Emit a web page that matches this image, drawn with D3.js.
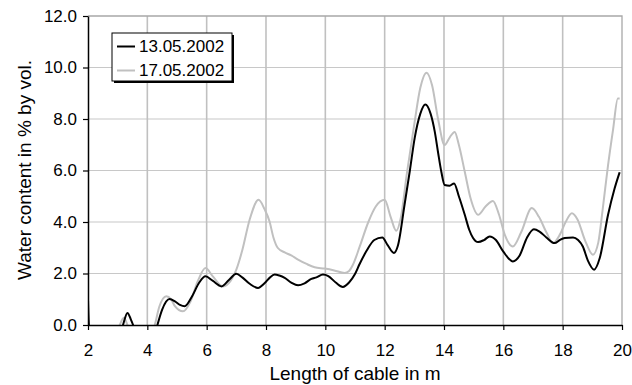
<!DOCTYPE html>
<html>
<head>
<meta charset="utf-8">
<script src="https://cdn.jsdelivr.net/npm/d3@7"></script>
<style>
  body { margin: 0; background: #fff; }
  svg { display: block; font-family: "Liberation Sans", Arial, sans-serif; }
</style>
</head>
<body>
<script>
const seriesNames = ["13.05.2002", "17.05.2002"];

const xTicks = [2, 4, 6, 8, 10, 12, 14, 16, 18, 20];
const yTicks = [0, 2, 4, 6, 8, 10, 12];

// 13.05.2002 : cable length (m) / water content (% vol.)
const lengthA = [
  2.0, 2.03, 2.1, 2.6, 3.05, 3.18, 3.33, 3.45, 3.52, 3.65, 4.0, 4.25, 4.34,
  4.5, 4.75, 4.93, 5.1, 5.26, 5.5, 5.75, 5.96, 6.2, 6.5, 6.75, 7.0, 7.2,
  7.45, 7.73, 7.95, 8.12, 8.29, 8.45, 8.63, 8.85, 9.08, 9.3, 9.53, 9.7,
  9.92, 10.1, 10.35, 10.59, 10.8, 10.99, 11.16, 11.4, 11.65, 11.92, 12.1,
  12.31, 12.45, 12.67, 12.85, 13.01, 13.2, 13.37, 13.55, 13.69, 13.8, 13.91,
  14.02, 14.19, 14.34, 14.5, 14.7, 14.85, 14.98, 15.15, 15.35, 15.54, 15.75,
  16.0, 16.32, 16.55, 16.8, 17.03, 17.22, 17.45, 17.73, 17.9, 18.07, 18.35,
  18.52, 18.68, 18.85, 19.06, 19.25, 19.53, 19.75, 19.92,
];
const waterA = [
  1.0, 0.0, -0.5, -0.8, -0.5, 0.0, 0.47, 0.2, 0.0, -0.5, -0.8, -0.4, 0.0,
  0.6, 1.01, 0.92, 0.78, 0.73, 1.1, 1.65, 1.89, 1.72, 1.5, 1.75, 1.99, 1.85,
  1.6, 1.44, 1.62, 1.83, 1.96, 1.92, 1.83, 1.65, 1.54, 1.62, 1.79, 1.85,
  1.96, 1.9, 1.65, 1.48, 1.65, 1.96, 2.38, 2.9, 3.3, 3.4, 3.1,
  2.8, 3.1, 4.67, 6.0, 7.25, 8.2, 8.56, 8.2, 7.5, 6.7, 5.95,
  5.44, 5.41, 5.5, 5.0, 4.28, 3.7, 3.38, 3.22, 3.3, 3.44, 3.3,
  2.85, 2.47, 2.7, 3.4, 3.72, 3.63, 3.4, 3.18, 3.3, 3.38, 3.4,
  3.3, 3.05, 2.5, 2.15, 2.6, 4.28, 5.3, 5.93,
];

// 17.05.2002
const lengthB = [
  2.0, 2.5, 2.95, 3.07, 3.21, 3.33, 3.5, 4.0, 4.15, 4.25, 4.4, 4.64, 4.8,
  4.93, 5.2, 5.45, 5.7, 5.96, 6.2, 6.55, 6.8, 7.0, 7.2, 7.45, 7.75, 7.95,
  8.12, 8.25, 8.4, 8.63, 8.85, 9.08, 9.35, 9.64, 9.98, 10.3, 10.65, 10.8,
  10.93, 11.16, 11.45, 11.7, 12.0, 12.2, 12.39, 12.55, 12.75, 13.01, 13.2,
  13.41, 13.6, 13.8, 14.02, 14.2, 14.36, 14.5, 14.7, 14.9, 15.15, 15.4,
  15.65, 15.85, 16.05, 16.32, 16.6, 16.96, 17.2, 17.45, 17.67, 17.9, 18.1,
  18.31, 18.5, 18.75, 19.02, 19.2, 19.35, 19.53, 19.7, 19.86, 19.92,
];
const waterB = [
  -0.6, -0.8, -0.4, 0.0, 0.28, 0.0, -0.5, -0.6, -0.3, 0.0, 0.7, 1.12, 1.0,
  0.73, 0.53, 0.9, 1.7, 2.21, 1.9, 1.5, 1.7, 2.15, 2.9, 4.1, 4.86, 4.5,
  4.02, 3.4, 2.99, 2.82, 2.7, 2.54, 2.38, 2.24, 2.19, 2.12, 2.02, 2.1,
  2.34, 3.05, 4.0, 4.6, 4.86, 4.2, 3.66, 4.2, 5.9, 7.89, 9.2,
  9.8, 9.3, 8.0, 6.99, 7.3, 7.5, 7.0, 5.95, 4.9, 4.28, 4.6,
  4.82, 4.3, 3.5, 3.05, 3.6, 4.54, 4.2, 3.6, 3.18, 3.5, 4.0,
  4.34, 4.1, 3.3, 2.73, 3.2, 4.5, 6.21, 7.6, 8.8, 8.8,
];

const colors = ["#000000", "#c0c0c0"];

const width = 632;
const height = 385;
const plot = { left: 88, right: 622, top: 16, bottom: 325 };

const xScale = d3.scaleLinear().domain([2, 20]).range([plot.left, plot.right]);
const yScale = d3.scaleLinear().domain([0, 12]).range([plot.bottom, plot.top]);

const svg = d3
  .select("body")
  .append("svg")
  .attr("width", width)
  .attr("height", height);

svg
  .append("defs")
  .append("clipPath")
  .attr("id", "plot-clip")
  .append("rect")
  .attr("x", plot.left)
  .attr("y", plot.top)
  .attr("width", plot.right - plot.left)
  .attr("height", plot.bottom - plot.top);

// grid
const grid = svg.append("g");
grid
  .selectAll("line.h")
  .data(yTicks.filter((d) => d > 0 && d < 12))
  .enter()
  .append("line")
  .attr("class", "h")
  .attr("x1", plot.left)
  .attr("x2", plot.right)
  .attr("y1", (d) => yScale(d))
  .attr("y2", (d) => yScale(d))
  .attr("stroke", "#c8c8c8")
  .attr("stroke-width", 1.2);

grid
  .selectAll("line.v")
  .data(xTicks.filter((d) => d > 2 && d < 20))
  .enter()
  .append("line")
  .attr("class", "v")
  .attr("x1", (d) => xScale(d))
  .attr("x2", (d) => xScale(d))
  .attr("y1", plot.top)
  .attr("y2", plot.bottom)
  .attr("stroke", "#c0c0c0")
  .attr("stroke-width", 1.6);

// plot border top / right
grid
  .append("path")
  .attr("d", `M${plot.left},${plot.top}H${plot.right}V${plot.bottom}`)
  .attr("fill", "none")
  .attr("stroke", "#a8a8a8")
  .attr("stroke-width", 1.3);

// series
const line = d3
  .line()
  .x((d) => xScale(d[0]))
  .y((d) => yScale(d[1]))
  .curve(d3.curveMonotoneX);

const series = [d3.zip(lengthB, waterB), d3.zip(lengthA, waterA)];
const seriesColors = [colors[1], colors[0]];

svg
  .append("g")
  .attr("clip-path", "url(#plot-clip)")
  .selectAll("path")
  .data(series)
  .enter()
  .append("path")
  .attr("d", line)
  .attr("fill", "none")
  .attr("stroke", (d, i) => seriesColors[i])
  .attr("stroke-width", 2)
  .attr("stroke-linejoin", "round");

// axes
const xAxis = d3
  .axisBottom(xScale)
  .tickValues(xTicks)
  .tickFormat(d3.format("d"))
  .tickSizeInner(5)
  .tickSizeOuter(0)
  .tickPadding(14);

const yAxis = d3
  .axisLeft(yScale)
  .tickValues(yTicks)
  .tickFormat(d3.format(".1f"))
  .tickSizeInner(5)
  .tickSizeOuter(0)
  .tickPadding(6);

const gx = svg
  .append("g")
  .attr("transform", `translate(0 ${plot.bottom})`)
  .call(xAxis);

const gy = svg
  .append("g")
  .attr("transform", `translate(${plot.left} 0)`)
  .call(yAxis);

[gx, gy].forEach((g) => {
  g.select(".domain").attr("stroke", "#000").attr("stroke-width", 1.5);
  g.selectAll(".tick line").attr("stroke", "#000").attr("stroke-width", 1.2);
  g.selectAll("text")
    .attr("font-size", 17)
    .attr("font-family", "Liberation Sans, Arial, sans-serif")
    .attr("fill", "#000");
});

// axis titles
svg
  .append("text")
  .attr("x", (plot.left + plot.right) / 2)
  .attr("y", 380)
  .attr("text-anchor", "middle")
  .attr("font-size", 19)
  .text("Length of cable in m");

svg
  .append("text")
  .attr("transform", "translate(31 170) rotate(-90)")
  .attr("text-anchor", "middle")
  .attr("font-size", 19)
  .text("Water content in % by vol.");

// legend
const legend = svg.append("g").attr("transform", "translate(112 33)");

legend
  .append("rect")
  .attr("x", 2)
  .attr("y", 2)
  .attr("width", 120)
  .attr("height", 48)
  .attr("fill", "#000");

legend
  .append("rect")
  .attr("x", 0)
  .attr("y", 0)
  .attr("width", 120)
  .attr("height", 48)
  .attr("fill", "#fff")
  .attr("stroke", "#000")
  .attr("stroke-width", 1);

const items = legend
  .selectAll("g.item")
  .data(seriesNames)
  .enter()
  .append("g")
  .attr("class", "item")
  .attr("transform", (d, i) => `translate(0 ${13.5 + i * 24})`);

items
  .append("line")
  .attr("x1", 5)
  .attr("x2", 23)
  .attr("stroke", (d, i) => colors[i])
  .attr("stroke-width", 2);

items
  .append("text")
  .attr("x", 27)
  .attr("dy", "0.35em")
  .attr("font-size", 17)
  .text((d) => d);
</script>
</body>
</html>
